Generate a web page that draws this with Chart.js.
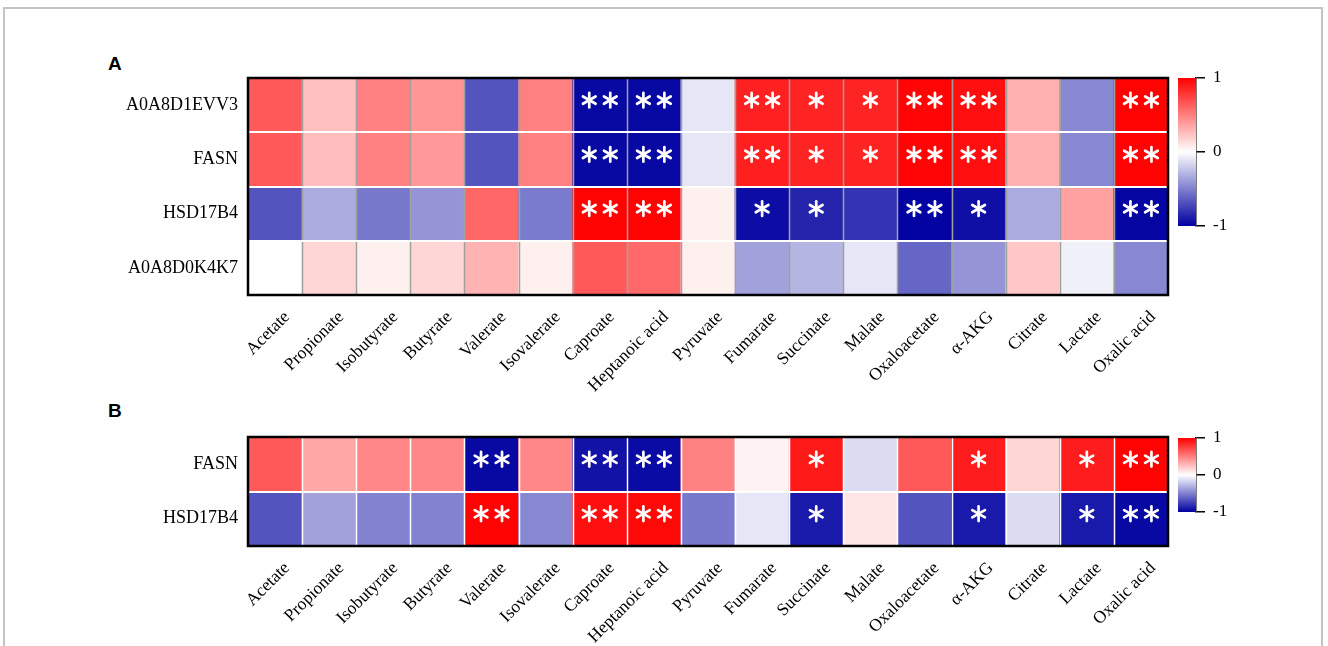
<!DOCTYPE html>
<html>
<head>
<meta charset="utf-8">
<script src="https://cdn.jsdelivr.net/npm/chart.js@4.4.1/dist/chart.umd.min.js"></script>
<style>
  html, body { margin: 0; padding: 0; background: #fff; }
  body { width: 1328px; height: 646px; position: relative; overflow: hidden; }
  .frame { position: absolute; left: 3px; top: 7px; width: 1320px; height: 700px; border: 2px solid #c4c4c4; box-sizing: border-box; }
  .panel-tag { position: absolute; font: bold 19px "Liberation Sans", Arial, sans-serif; line-height: 19px; color: #000; }
  canvas { position: absolute; }
</style>
</head>
<body>
<div class="frame"></div>
<div class="panel-tag" style="left:108px; top:54px;">A</div>
<div class="panel-tag" style="left:108px; top:401px;">B</div>
<canvas id="heatA" width="1175" height="400" style="left:0; top:0;"></canvas>
<canvas id="barA" width="70" height="168" style="left:1170px; top:68px;"></canvas>
<canvas id="heatB" width="1175" height="316" style="left:0; top:330px;"></canvas>
<canvas id="barB" width="70" height="94" style="left:1170px; top:428px;"></canvas>
<script>
// Metabolites on the x axis (shared by both panels)
const metabolites = ['Acetate', 'Propionate', 'Isobutyrate', 'Butyrate', 'Valerate', 'Isovalerate',
  'Caproate', 'Heptanoic acid', 'Pyruvate', 'Fumarate', 'Succinate', 'Malate', 'Oxaloacetate',
  'α-AKG', 'Citrate', 'Lactate', 'Oxalic acid'];

// Panel A: genes (rows, top to bottom)
const genesA = ['A0A8D1EVV3', 'FASN', 'HSD17B4', 'A0A8D0K4K7'];

// Panel A correlation coefficients, one array per gene
const corrA_EVV3 = [0.65, 0.25, 0.50, 0.41, -0.67, 0.50, -0.97, -0.97, -0.10, 0.87, 0.86, 0.86, 0.98, 0.94, 0.31, -0.47, 0.99];
const corrA_FASN = [0.65, 0.26, 0.50, 0.40, -0.67, 0.50, -0.97, -0.97, -0.10, 0.88, 0.86, 0.86, 0.98, 0.94, 0.31, -0.47, 0.99];
const corrA_HSD17B4 = [-0.67, -0.33, -0.53, -0.42, 0.60, -0.52, 0.99, 0.99, 0.06, -0.95, -0.86, -0.80, -0.99, -0.94, -0.33, 0.37, -0.98];
const corrA_K4K7 = [0.00, 0.16, 0.06, 0.16, 0.30, 0.06, 0.65, 0.59, 0.06, -0.37, -0.29, -0.10, -0.60, -0.42, 0.22, -0.06, -0.47];

// Panel A significance: 0 = none, 1 = *, 2 = **
const sigA_EVV3 = [0, 0, 0, 0, 0, 0, 2, 2, 0, 2, 1, 1, 2, 2, 0, 0, 2];
const sigA_FASN = [0, 0, 0, 0, 0, 0, 2, 2, 0, 2, 1, 1, 2, 2, 0, 0, 2];
const sigA_HSD17B4 = [0, 0, 0, 0, 0, 0, 2, 2, 0, 1, 1, 0, 2, 1, 0, 0, 2];
const sigA_K4K7 = [0, 0, 0, 0, 0, 0, 0, 0, 0, 0, 0, 0, 0, 0, 0, 0, 0];

// Panel B: genes (rows, top to bottom)
const genesB = ['FASN', 'HSD17B4'];

// Panel B correlation coefficients
const corrB_FASN = [0.65, 0.35, 0.47, 0.47, -0.97, 0.47, -0.93, -0.96, 0.49, 0.05, 0.90, -0.14, 0.65, 0.89, 0.16, 0.89, 0.99];
const corrB_HSD17B4 = [-0.67, -0.37, -0.49, -0.49, 0.99, -0.47, 0.94, 0.97, -0.53, -0.10, -0.90, 0.10, -0.67, -0.90, -0.14, -0.90, -0.97];

// Panel B significance
const sigB_FASN = [0, 0, 0, 0, 2, 0, 2, 2, 0, 0, 1, 0, 0, 1, 0, 1, 2];
const sigB_HSD17B4 = [0, 0, 0, 0, 2, 0, 2, 2, 0, 0, 1, 0, 0, 1, 0, 1, 2];

// Colour scale limits and ticks
const scaleMin = -1, scaleMax = 1;
const colorbarTicks = [-1, 0, 1];

const SERIF = '"Liberation Serif", "Times New Roman", serif';
const NEG = [0, 0, 160], MID = [255, 255, 255], POS = [255, 0, 0];

function colorFor(v) {
  const t = Math.max(-1, Math.min(1, v));
  const end = t >= 0 ? POS : NEG;
  const a = Math.abs(t);
  const c = MID.map((m, k) => Math.round(m + (end[k] - m) * a));
  return `rgb(${c[0]},${c[1]},${c[2]})`;
}

// Draws one six-armed asterisk centred at (x, y)
function drawAsterisk(ctx, x, y, r) {
  ctx.save();
  ctx.strokeStyle = '#fff';
  ctx.lineWidth = 2.7;
  ctx.lineCap = 'round';
  for (let k = 0; k < 3; k++) {
    const ang = Math.PI / 2 + k * Math.PI / 3;
    const dx = Math.cos(ang) * r, dy = Math.sin(ang) * r;
    ctx.beginPath();
    ctx.moveTo(x - dx, y - dy);
    ctx.lineTo(x + dx, y + dy);
    ctx.stroke();
  }
  ctx.restore();
}

// Cell separators, significance stars and the heavy outer frame
const heatDecor = {
  id: 'heatDecor',
  afterDatasetsDraw(chart, args, opts) {
    const { ctx, chartArea: area, scales } = chart;
    const xs = scales.x, ys = scales.y;
    const nCols = xs.getLabels().length;
    const nRows = chart.data.datasets.length;
    const colW = (area.right - area.left) / nCols;
    ctx.save();
    // vertical separators
    ctx.strokeStyle = opts.colLine;
    ctx.lineWidth = 1.5;
    for (let i = 1; i < nCols; i++) {
      const x = Math.round(xs.getPixelForValue(i) - colW / 2) + 0.5;
      ctx.beginPath(); ctx.moveTo(x, area.top); ctx.lineTo(x, area.bottom); ctx.stroke();
    }
    // horizontal separators
    ctx.strokeStyle = opts.rowLine;
    ctx.lineWidth = 2;
    for (let r = 1; r < nRows; r++) {
      const y = Math.round(ys.getPixelForValue(r));
      ctx.beginPath(); ctx.moveTo(area.left, y); ctx.lineTo(area.right, y); ctx.stroke();
    }
    // significance stars
    chart.data.datasets.forEach((ds, r) => {
      const meta = chart.getDatasetMeta(r);
      meta.data.forEach((el, i) => {
        const n = ds.sig[i];
        if (!n) return;
        const cx = el.x;
        const cy = (el.y + el.base) / 2 - 5;
        if (n === 1) drawAsterisk(ctx, cx, cy, 7.3);
        else { drawAsterisk(ctx, cx - 10.5, cy, 7.3); drawAsterisk(ctx, cx + 10.5, cy, 7.3); }
      });
    });
    // outer frame
    ctx.strokeStyle = '#000';
    ctx.lineWidth = 2.5;
    ctx.strokeRect(area.left, area.top, area.right - area.left, area.bottom - area.top);
    ctx.restore();
  }
};

function heatmap(canvasId, genes, corr, sig, yAxisWidth, xAxisHeight, padTop, decor) {
  const datasets = genes.map((g, r) => ({
    label: g,
    data: metabolites.map(() => [r, r + 1]),
    backgroundColor: corr[r].map(colorFor),
    borderWidth: 0,
    grouped: false,
    categoryPercentage: 1,
    barPercentage: 1,
    sig: sig[r]
  }));
  return new Chart(document.getElementById(canvasId), {
    type: 'bar',
    data: { labels: metabolites, datasets },
    options: {
      responsive: false,
      animation: false,
      devicePixelRatio: 1,
      layout: { padding: { top: padTop, right: 7, left: 0, bottom: 0 } },
      plugins: { legend: { display: false }, tooltip: { enabled: false }, heatDecor: decor },
      scales: {
        x: {
          type: 'category',
          grid: { display: false, drawTicks: false },
          border: { display: false },
          ticks: {
            autoSkip: false, minRotation: 45, maxRotation: 45, padding: 12, labelOffset: 12,
            color: '#000', font: { family: SERIF, size: 17.5 }
          },
          afterFit(s) { s.height = xAxisHeight; }
        },
        y: {
          type: 'linear', min: 0, max: genes.length, reverse: true,
          grid: { display: false, drawTicks: false },
          border: { display: false },
          afterBuildTicks(s) { s.ticks = genes.map((_, i) => ({ value: i + 0.5 })); },
          ticks: {
            autoSkip: false, padding: 10, color: '#000',
            font: { family: SERIF, size: 18 },
            callback: (v) => genes[Math.floor(v)]
          },
          afterFit(s) { s.width = yAxisWidth; }
        }
      }
    },
    plugins: [heatDecor]
  });
}

function colorbar(canvasId) {
  return new Chart(document.getElementById(canvasId), {
    type: 'bar',
    data: {
      labels: [''],
      datasets: [{
        data: [[scaleMin, scaleMax]],
        borderWidth: 0,
        categoryPercentage: 1,
        barPercentage: 1,
        backgroundColor(c) {
          const area = c.chart.chartArea;
          if (!area) return '#fff';
          const g = c.chart.ctx.createLinearGradient(0, area.bottom, 0, area.top);
          g.addColorStop(0, colorFor(scaleMin));
          g.addColorStop(0.5, colorFor(0));
          g.addColorStop(1, colorFor(scaleMax));
          return g;
        }
      }]
    },
    options: {
      responsive: false,
      animation: false,
      devicePixelRatio: 1,
      layout: { padding: { top: 10, bottom: 10, left: 8, right: 0 } },
      plugins: { legend: { display: false }, tooltip: { enabled: false } },
      scales: {
        x: { display: false },
        y: {
          type: 'linear', position: 'right', min: scaleMin, max: scaleMax,
          afterBuildTicks(s) { s.ticks = colorbarTicks.map(v => ({ value: v })); },
          grid: { display: true, drawOnChartArea: false, drawTicks: true, tickLength: 9, color: '#000', lineWidth: 1.5 },
          border: { display: true, color: '#000', width: 1.5 },
          ticks: { padding: 8, color: '#000', font: { family: SERIF, size: 17 } },
          afterFit(s) { s.width = 44; s.paddingTop = 0; s.paddingBottom = 0; }
        }
      }
    }
  });
}

heatmap('heatA', genesA,
  [corrA_EVV3, corrA_FASN, corrA_HSD17B4, corrA_K4K7],
  [sigA_EVV3, sigA_FASN, sigA_HSD17B4, sigA_K4K7],
  248, 105, 78, { colLine: '#a0a0a0', rowLine: '#ffffff' });
colorbar('barA');

heatmap('heatB', genesB,
  [corrB_FASN, corrB_HSD17B4],
  [sigB_FASN, sigB_HSD17B4],
  248, 100, 107, { colLine: '#ffffff', rowLine: '#ffffff' });
colorbar('barB');
</script>
</body>
</html>
